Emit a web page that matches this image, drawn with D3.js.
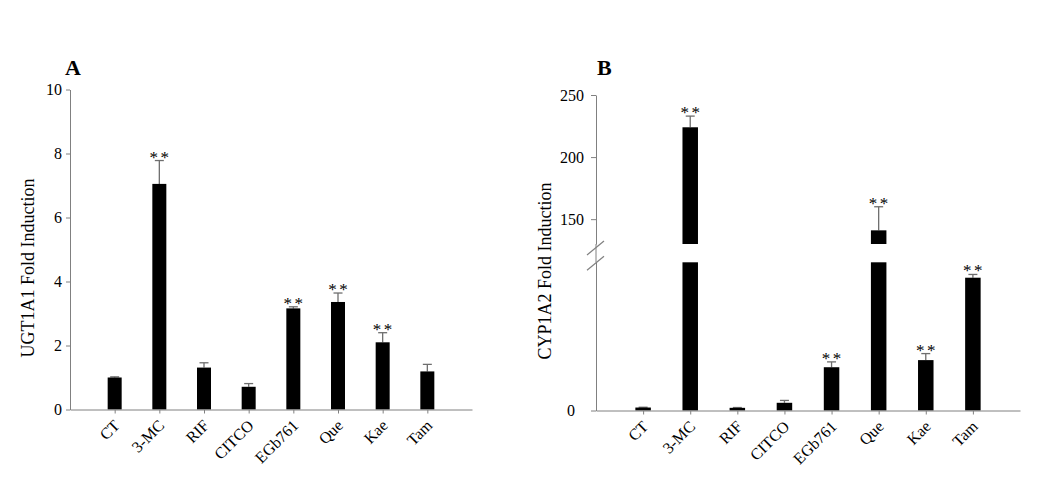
<!DOCTYPE html>
<html>
<head>
<meta charset="utf-8">
<script src="https://cdn.jsdelivr.net/npm/d3@7"></script>
<style>
  body { margin: 0; background: #fff; }
  svg { display: block; }
  svg text { font-family: "Liberation Serif", "Times New Roman", Times, serif; }
</style>
</head>
<body>
<div id="chart"></div>
<script>
// data
const categories = ["CT", "3-MC", "RIF", "CITCO", "EGb761", "Que", "Kae", "Tam"];

const ugtMeans  = [1.0, 7.05, 1.31, 0.71, 3.16, 3.36, 2.10, 1.19];
const ugtErrors = [0.02, 0.73, 0.15, 0.10, 0.05, 0.28, 0.30, 0.22];
const ugtStars  = [false, true, false, false, true, true, true, false];
const ugtTicks  = [0, 2, 4, 6, 8, 10];

const cypMeans  = [1.0, 224, 0.9, 2.6, 14.6, 141, 17.0, 44.8];
const cypErrors = [0.1, 9, 0.1, 0.8, 1.8, 19, 2.2, 1.1];
const cypStars  = [false, true, false, false, true, true, true, true];
const cypUpperTicks = [150, 200, 250];
const cypLowerTicks = [0];

const axisColor = "#808080";
const errColor = "#6e6e6e";

const svg = d3.select("#chart")
  .append("svg")
  .attr("width", 1050)
  .attr("height", 494);

svg.append("rect").attr("width", 1050).attr("height", 494).attr("fill", "#fff");

const styleAxis = (g) => {
  g.attr("font-family", null).attr("font-size", null);
  g.selectAll("path, line").attr("stroke", axisColor).attr("stroke-width", 1);
  g.selectAll("text").attr("fill", "#000").style("font-size", "16px");
};

const drawXAxis = (x, baseY) => {
  const g = svg.append("g")
    .attr("transform", "translate(0," + baseY + ")")
    .call(d3.axisBottom(x).tickSize(4).tickSizeOuter(0).tickFormat(""));
  styleAxis(g);
  // rotated category labels
  svg.append("g")
    .selectAll("text")
    .data(categories)
    .enter()
    .append("text")
    .attr("transform", d => "translate(" + (x(d) + 6) + "," + (baseY + 17) + ") rotate(-45)")
    .attr("text-anchor", "end")
    .style("font-size", "16px")
    .text(d => d);
};

const drawStars = (x, yPos, means, errors, stars) => {
  svg.append("g")
    .selectAll("text")
    .data(categories.filter((c, i) => stars[i]))
    .enter()
    .append("text")
    .attr("x", d => x(d) + 1.2)
    .attr("y", d => {
      const i = categories.indexOf(d);
      return yPos(means[i] + errors[i]) + 2;
    })
    .attr("text-anchor", "middle")
    .style("font-size", "17px")
    .style("letter-spacing", "2.5px")
    .text("**");
};

const drawErrors = (x, yPos, means, errors) => {
  const g = svg.append("g").attr("stroke", errColor).attr("stroke-width", 1.3);
  categories.forEach((c, i) => {
    const top = yPos(means[i] + errors[i]);
    g.append("line")
      .attr("x1", x(c)).attr("x2", x(c))
      .attr("y1", yPos(means[i])).attr("y2", top);
    g.append("line")
      .attr("x1", x(c) - 4.5).attr("x2", x(c) + 4.5)
      .attr("y1", top).attr("y2", top);
  });
};

// ---------- panel A ----------
const xA = d3.scalePoint().domain(categories).range([70, 472]).padding(1);
const yA = d3.scaleLinear().domain([0, 10]).range([409.5, 89.5]);
const barWA = 14;

drawErrors(xA, yA, ugtMeans, ugtErrors);

svg.append("g")
  .selectAll("rect")
  .data(categories)
  .enter()
  .append("rect")
  .attr("x", d => xA(d) - barWA / 2)
  .attr("width", barWA)
  .attr("y", (d, i) => yA(ugtMeans[i]))
  .attr("height", (d, i) => yA(0) - yA(ugtMeans[i]))
  .attr("fill", "#000");

const yAxisA = svg.append("g")
  .attr("transform", "translate(70,0)")
  .call(d3.axisLeft(yA).tickValues(ugtTicks).tickSize(4).tickSizeOuter(0).tickPadding(4));
styleAxis(yAxisA);

drawXAxis(xA, 409.5);
drawStars(xA, yA, ugtMeans, ugtErrors, ugtStars);

svg.append("text")
  .attr("transform", "translate(34,268) rotate(-90)")
  .attr("text-anchor", "middle")
  .style("font-size", "18px")
  .text("UGT1A1 Fold Induction");

svg.append("text")
  .attr("x", 65).attr("y", 75)
  .style("font-size", "22px").style("font-weight", "bold")
  .text("A");

// ---------- panel B (broken axis) ----------
const xB = d3.scalePoint().domain(categories).range([596, 1020]).padding(1);
const yLow = d3.scaleLinear().domain([0, 50]).range([410.5, 262.3]);
const yUp = d3.scaleLinear().domain([130, 250]).range([244, 95]);
const yB = v => (v <= 50 ? yLow(v) : yUp(v));
const barWB = 15.5;

drawErrors(xB, yB, cypMeans, cypErrors);

// each bar split into a lower and (if tall enough) an upper piece
const pieces = [];
categories.forEach((c, i) => {
  const v = cypMeans[i];
  if (v <= 50) {
    pieces.push({c: c, y0: yLow(0), y1: yLow(v)});
  } else {
    pieces.push({c: c, y0: yLow(0), y1: yLow(50)});
    pieces.push({c: c, y0: yUp(130), y1: yUp(v)});
  }
});

svg.append("g")
  .selectAll("rect")
  .data(pieces)
  .enter()
  .append("rect")
  .attr("x", d => xB(d.c) - barWB / 2)
  .attr("width", barWB)
  .attr("y", d => d.y1)
  .attr("height", d => d.y0 - d.y1)
  .attr("fill", "#000");

const yAxisUp = svg.append("g")
  .attr("transform", "translate(596,0)")
  .call(d3.axisLeft(yUp).tickValues(cypUpperTicks).tickSize(5).tickSizeOuter(0).tickPadding(7));
styleAxis(yAxisUp);

const yAxisLow = svg.append("g")
  .attr("transform", "translate(596,0)")
  .call(d3.axisLeft(yLow).tickValues(cypLowerTicks).tickSize(5).tickSizeOuter(0).tickPadding(16));
styleAxis(yAxisLow);

// join the two axis pieces and add the break marks
svg.append("line")
  .attr("x1", 596).attr("x2", 596)
  .attr("y1", yUp(130)).attr("y2", yLow(50))
  .attr("stroke", axisColor);
[yUp(130) + 4, yLow(50) + 1].forEach(yc => {
  svg.append("line")
    .attr("x1", 587).attr("y1", yc + 7)
    .attr("x2", 604).attr("y2", yc - 7)
    .attr("stroke", axisColor).attr("stroke-width", 1.2);
});

drawXAxis(xB, 410.5);
drawStars(xB, yB, cypMeans, cypErrors, cypStars);

svg.append("text")
  .attr("transform", "translate(551,271) rotate(-90)")
  .attr("text-anchor", "middle")
  .style("font-size", "18px")
  .text("CYP1A2 Fold Induction");

svg.append("text")
  .attr("x", 597).attr("y", 75)
  .style("font-size", "22px").style("font-weight", "bold")
  .text("B");
</script>
</body>
</html>
